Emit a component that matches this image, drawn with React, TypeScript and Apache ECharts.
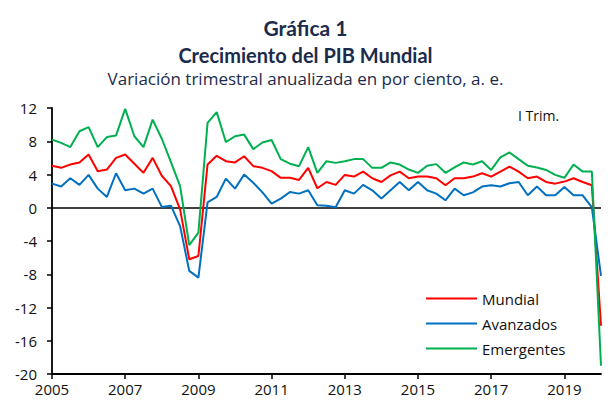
import React, { useEffect, useRef } from "react";
import * as echarts from "echarts";

const years = [2005, 2006, 2007, 2008, 2009, 2010, 2011, 2012, 2013, 2014, 2015, 2016, 2017, 2018, 2019, 2020];
const quarters = ["I", "II", "III", "IV"];
const categories: string[] = [];
years.forEach((y) => quarters.forEach((q) => categories.push(`${y} ${q}`)));
categories.splice(61);

const mundial = [
  5.05, 4.8, 5.2, 5.45, 6.4, 4.4, 4.6, 6.0, 6.4, 5.3, 4.2, 6.0, 3.85, 2.6, -0.2, -6.2,
  -5.8, 5.2, 6.25, 5.6, 5.45, 6.2, 5.0, 4.8, 4.4, 3.6, 3.6, 3.35, 4.8, 2.35, 3.1, 2.75,
  3.95, 3.75, 4.35, 3.55, 3.1, 3.9, 4.35, 3.55, 3.75, 3.75, 3.55, 2.7, 3.55, 3.55, 3.75, 4.15,
  3.75, 4.35, 4.95, 4.35, 3.55, 3.75, 3.1, 2.9, 3.15, 3.55, 3.1, 2.7, -14.2,
];
const avanzados = [
  2.9, 2.55, 3.55, 2.75, 3.95, 2.3, 1.3, 4.15, 2.1, 2.3, 1.7, 2.3, 0.1, 0.25, -2.2, -7.6,
  -8.4, 0.65, 1.3, 3.5, 2.3, 4.0, 3.0, 1.85, 0.5, 1.1, 1.9, 1.7, 2.1, 0.3, 0.25, 0.05,
  2.1, 1.7, 2.75, 2.1, 1.1, 2.1, 3.1, 2.1, 3.1, 2.1, 1.7, 0.9, 2.3, 1.5, 1.85, 2.55,
  2.7, 2.55, 2.95, 3.1, 1.5, 2.55, 1.5, 1.5, 2.5, 1.5, 1.5, 0.05, -8.2,
];
const emergentes = [
  8.2, 7.8, 7.3, 9.2, 9.7, 7.3, 8.5, 8.7, 11.9, 8.6, 7.3, 10.6, 8.3, 5.5, 2.6, -4.5,
  -3.0, 10.2, 11.5, 7.9, 8.6, 8.8, 7.05, 7.85, 8.15, 5.85, 5.3, 5.0, 7.3, 4.2, 5.6, 5.4,
  5.6, 5.85, 5.85, 4.8, 4.8, 5.45, 5.2, 4.6, 4.2, 5.05, 5.25, 4.2, 4.85, 5.45, 5.2, 5.6,
  4.55, 6.05, 6.65, 5.85, 5.05, 4.85, 4.55, 3.95, 3.6, 5.2, 4.35, 4.35, -19.0,
];

const yTicks = { min: -20, max: 12, interval: 4 };
const TITLE_FONT = "Lato, 'Open Sans', sans-serif";
const FONT = "'Open Sans', sans-serif";
const NAVY = "#1c2b4b";

export default function App() {
  const ref = useRef<HTMLDivElement>(null);
  useEffect(() => {
    if (!ref.current) return;
    const chart = echarts.init(ref.current, undefined, { renderer: "svg" });
    const line = (name: string, data: number[], color: string, extra: any = {}) => ({
      name,
      type: "line",
      data,
      symbol: "none",
      lineStyle: { color, width: 2 },
      itemStyle: { color },
      ...extra,
    });
    chart.setOption({
      animation: false,
      textStyle: { fontFamily: FONT },
      title: [
        {
          text: "Gráfica 1",
          left: "center",
          top: 12,
          textStyle: { fontSize: 21, fontWeight: "bold", color: NAVY, fontFamily: TITLE_FONT },
        },
        {
          text: "Crecimiento del PIB Mundial",
          left: "center",
          top: 40,
          textStyle: { fontSize: 20, fontWeight: "bold", color: NAVY, fontFamily: TITLE_FONT },
        },
        {
          text: "Variación trimestral anualizada en por ciento, a. e.",
          left: "center",
          top: 65,
          textStyle: { fontSize: 17, fontWeight: "normal", color: NAVY, fontFamily: FONT },
        },
      ],
      grid: { left: 52, right: 10, top: 108, bottom: 28, containLabel: false },
      legend: {
        orient: "vertical",
        left: 421,
        top: 286,
        icon: "rect",
        itemWidth: 51,
        itemHeight: 2,
        itemGap: 10,
        data: ["Mundial", "Avanzados", "Emergentes"],
        textStyle: { fontSize: 15, color: "#111", fontFamily: FONT, lineHeight: 15 },
      },
      graphic: [
        {
          type: "text",
          left: 518,
          top: 108,
          style: { text: "I Trim.", fontSize: 14, fill: "#111", fontFamily: FONT },
        },
      ],
      xAxis: {
        type: "category",
        data: categories,
        boundaryGap: false,
        axisLine: { onZero: false, lineStyle: { color: "#000", width: 1.8 } },
        axisTick: {
          show: true,
          length: 5,
          interval: (i: number) => i % 8 === 0,
          lineStyle: { color: "#000", width: 1.5 },
        },
        axisLabel: {
          interval: (i: number) => i % 8 === 0,
          formatter: (v: string) => v.slice(0, 4),
          fontSize: 15,
          color: "#111",
          margin: 7,
          fontFamily: FONT,
        },
        splitLine: { show: false },
      },
      yAxis: {
        type: "value",
        min: yTicks.min,
        max: yTicks.max,
        interval: yTicks.interval,
        axisLine: { show: true, lineStyle: { color: "#000", width: 1.8 } },
        axisTick: { show: true, length: 5, lineStyle: { color: "#000", width: 1.5 } },
        axisLabel: { fontSize: 15, color: "#111", margin: 15, fontFamily: FONT },
        splitLine: { show: false },
      },
      series: [
        line("Mundial", mundial, "#ff0000", {
          markLine: {
            silent: true,
            symbol: "none",
            label: { show: false },
            lineStyle: { color: "#000", width: 1.6, type: "solid" },
            data: [{ yAxis: 0 }],
            z: 1,
          },
        }),
        line("Avanzados", avanzados, "#0070c0"),
        line("Emergentes", emergentes, "#00b050"),
      ],
    });
    return () => chart.dispose();
  }, []);
  return (
    <div
      ref={ref}
      style={{ position: "fixed", left: 0, top: 0, width: 611, height: 402, background: "#fff" }}
    />
  );
}
